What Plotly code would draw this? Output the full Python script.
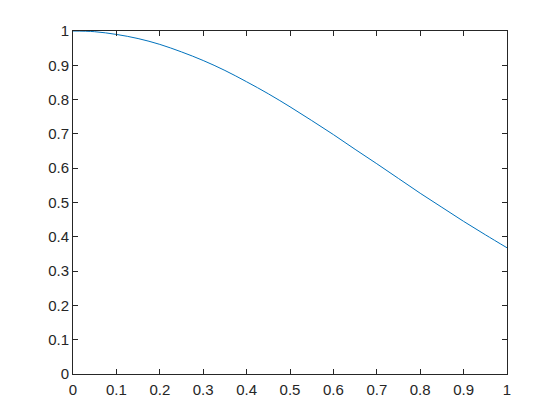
import plotly.graph_objects as go

x_vals = [0.0, 0.05, 0.1, 0.15, 0.2, 0.25, 0.3, 0.35, 0.4, 0.45, 0.5,
          0.55, 0.6, 0.65, 0.7, 0.75, 0.8, 0.85, 0.9, 0.95, 1.0]
y_vals = [1.000, 0.998, 0.990, 0.978, 0.961, 0.939, 0.914, 0.885, 0.852, 0.817, 0.779,
          0.739, 0.698, 0.655, 0.613, 0.570, 0.527, 0.486, 0.445, 0.406, 0.368]
x_ticks = [0, 0.1, 0.2, 0.3, 0.4, 0.5, 0.6, 0.7, 0.8, 0.9, 1]
x_ticktext = ["0", "0.1", "0.2", "0.3", "0.4", "0.5", "0.6", "0.7", "0.8", "0.9", "1"]
y_ticks = [0, 0.1, 0.2, 0.3, 0.4, 0.5, 0.6, 0.7, 0.8, 0.9, 1]
y_ticktext = ["0", "0.1", "0.2", "0.3", "0.4", "0.5", "0.6", "0.7", "0.8", "0.9", "1"]

fig = go.Figure()
fig.add_trace(go.Scatter(x=x_vals, y=y_vals, mode="lines",
                         line=dict(color="#0072BD", width=1, shape="spline"),
                         showlegend=False, hoverinfo="skip"))

axis_common = dict(showgrid=False, zeroline=False, showline=True, linecolor="#262626",
                   linewidth=0.8, mirror="ticks", ticks="inside", ticklen=5, tickwidth=0.8,
                   tickcolor="#262626",
                   tickfont=dict(family="Liberation Sans, Arial, Helvetica", size=15, color="#262626"))
fig.update_xaxes(range=[0, 1], tickvals=x_ticks, ticktext=x_ticktext,
                 ticklabelstandoff=2, **axis_common)
fig.update_yaxes(range=[0, 1], tickvals=y_ticks, ticktext=y_ticktext, **axis_common)

fig.update_layout(width=552, height=412, paper_bgcolor="white", plot_bgcolor="white",
                  margin=dict(l=65, r=53, t=23, b=46, pad=0))

fig.write_html("out.html")
